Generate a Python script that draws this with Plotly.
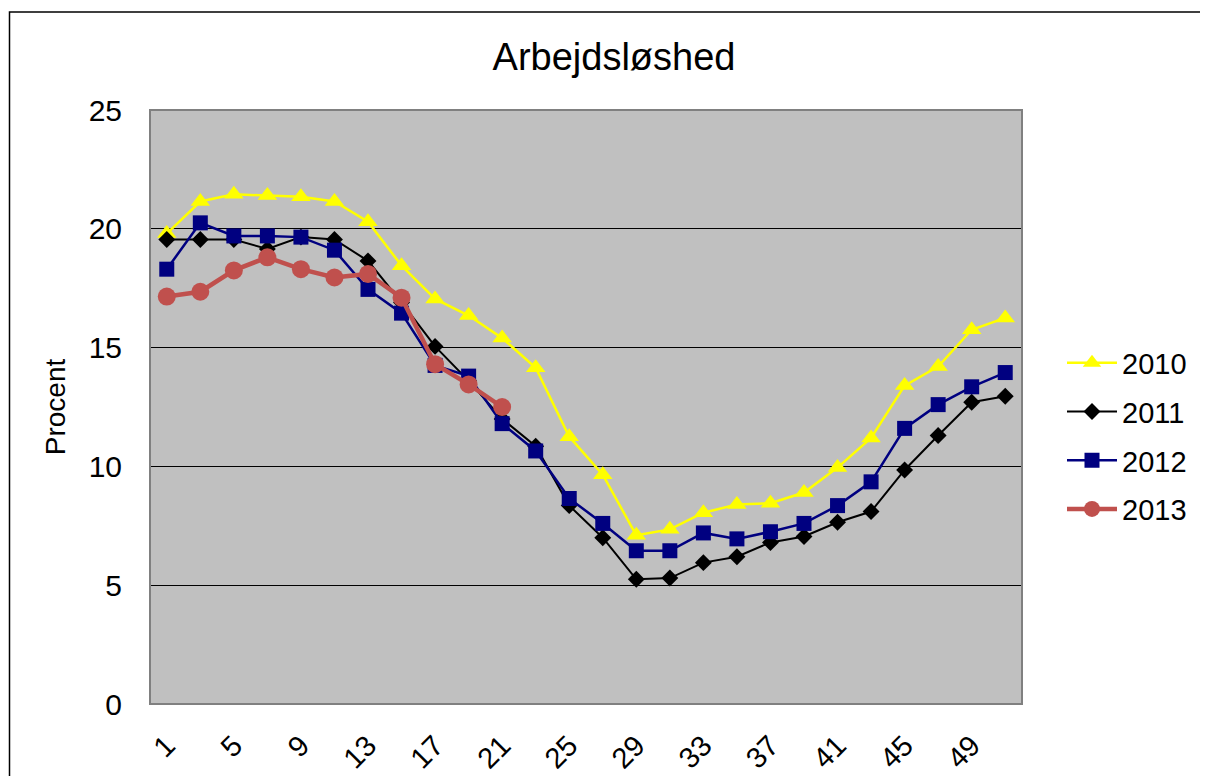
import plotly.graph_objects as go

weeks = [str(w) for w in range(1, 52, 2)]
tick_labels = [str(w) for w in range(1, 52, 4)]

y2010 = [19.8, 21.15, 21.45, 21.4, 21.35, 21.15, 20.3, 18.45, 17.05, 16.35, 15.4, 14.15, 11.25,
         9.65, 7.1, 7.35, 8.05, 8.4, 8.45, 8.9, 9.95, 11.2, 13.4, 14.2, 15.75, 16.25]
y2011 = [19.55, 19.55, 19.55, 19.15, 19.65, 19.55, 18.65, 16.9, 15.05, 13.6, 12.0, 10.85, 8.35,
         7.0, 5.25, 5.3, 5.95, 6.2, 6.8, 7.05, 7.65, 8.1, 9.85, 11.3, 12.7, 12.95]
y2012 = [18.3, 20.25, 19.7, 19.7, 19.65, 19.1, 17.45, 16.45, 14.25, 13.8, 11.8, 10.65, 8.65,
         7.6, 6.45, 6.45, 7.2, 6.95, 7.25, 7.6, 8.35, 9.35, 11.6, 12.6, 13.35, 13.95]
y2013 = [17.15, 17.35, 18.25, 18.8, 18.3, 17.95, 18.1, 17.1, 14.3, 13.45, 12.5]

FONT = "Liberation Sans, Arial, sans-serif"

fig = go.Figure()
fig.add_trace(go.Scatter(x=weeks, y=y2010, name="2010", mode="lines+markers",
                         line=dict(color="#FFFF00", width=2.5),
                         marker=dict(symbol="triangle-up", size=17, color="#FFFF00"),
                         legendgroup="a"))
fig.add_trace(go.Scatter(x=weeks, y=y2011, name="2011", mode="lines+markers",
                         line=dict(color="#000000", width=2),
                         marker=dict(symbol="diamond", size=13, color="#000000"),
                         legendgroup="b"))
fig.add_trace(go.Scatter(x=weeks, y=y2012, name="2012", mode="lines+markers",
                         line=dict(color="#000080", width=2.5),
                         marker=dict(symbol="square", size=15, color="#000080"),
                         legendgroup="c"))
fig.add_trace(go.Scatter(x=weeks[:len(y2013)], y=y2013, name="2013", mode="lines+markers",
                         line=dict(color="#C0504D", width=4.5),
                         marker=dict(symbol="circle", size=18, color="#C0504D"),
                         legendgroup="d"))

# page body has an 8px margin; compensate so the plot lands where the reference has it
# and keep the figure small enough that the page does not overflow the window
OFF = 8
W, H = 1208 - 2 * OFF, 784 - 2 * OFF
L, T = 150 - OFF, 110 - OFF
R = W - (1022 - OFF)
B = H - (704 - OFF)
pw, ph = W - L - R, H - T - B

def px_x(p):
    return (p - OFF - L) / pw

def px_y(p):
    return (H - B - (p - OFF)) / ph

fig.update_layout(
    width=W, height=H,
    margin=dict(l=L, r=R, t=T, b=B, autoexpand=False),
    paper_bgcolor="white",
    plot_bgcolor="#C0C0C0",
    font=dict(family=FONT, color="black"),
    title=dict(text="Arbejdsløshed", x=px_x(614), xanchor="center", xref="paper",
               y=1 - (57 - OFF) / H, yanchor="middle", font=dict(size=38, family=FONT)),
    showlegend=True,
    legend=dict(x=px_x(1062), xanchor="left", y=px_y(436), yanchor="middle",
                font=dict(size=29, family=FONT), bgcolor="rgba(0,0,0,0)",
                tracegroupgap=8, itemwidth=50),
    xaxis=dict(type="category", range=[-0.5, len(weeks) - 0.5],
               tickmode="array", tickvals=tick_labels, ticktext=tick_labels,
               tickangle=-45, tickfont=dict(size=29, family=FONT),
               showgrid=False, showline=False, zeroline=False,
               ticks="outside", ticklen=12, tickcolor="rgba(0,0,0,0)"),
    yaxis=dict(range=[0, 25], dtick=5, tick0=0, showgrid=True, gridcolor="black", gridwidth=1,
               zeroline=False, showline=False, tickfont=dict(size=30, family=FONT),
               ticks="", ticklabelstandoff=27,
               title=dict(text="Procent", font=dict(size=28, family=FONT), standoff=14)),
    shapes=[
        dict(type="rect", xref="paper", yref="paper", x0=0, x1=1, y0=0, y1=1,
             line=dict(color="#808080", width=2), layer="above"),
        dict(type="rect", xref="paper", yref="paper",
             x0=px_x(9.5), x1=px_x(1215), y0=px_y(800), y1=px_y(12),
             line=dict(color="black", width=1.5), layer="above"),
    ],
)

fig.write_html("out.html")
